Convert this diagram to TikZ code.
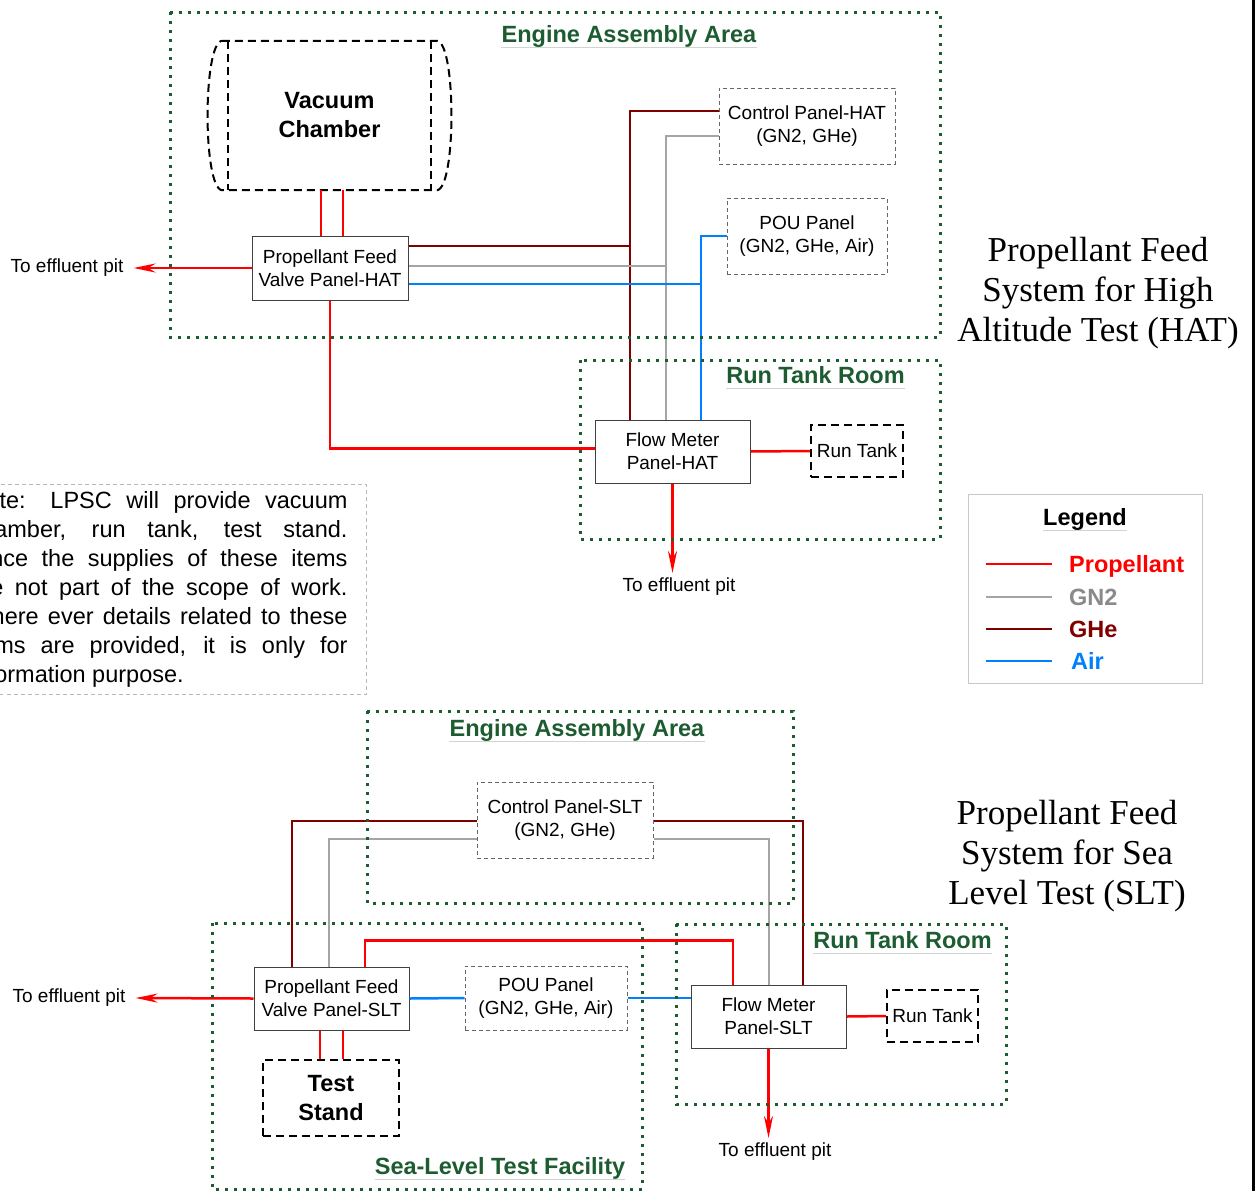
\documentclass[tikz,border=0pt]{standalone}
\usepackage{fontspec}
\setmainfont{Liberation Sans}
\newfontfamily\serifttl{Liberation Serif}
\usetikzlibrary{arrows.meta}
\usetikzlibrary{calc}

\definecolor{propred}{RGB}{255,0,0}
\definecolor{gntwo}{RGB}{165,165,165}
\definecolor{gntwotext}{RGB}{138,138,138}
\definecolor{gheRed}{RGB}{128,0,0}
\definecolor{airblue}{RGB}{0,128,255}
\definecolor{zonegreen}{RGB}{28,92,48}
\definecolor{ulinegray}{RGB}{205,215,205}
\definecolor{legendgray}{RGB}{200,200,200}
\definecolor{notegray}{RGB}{185,185,185}

\newcommand{\panelfont}{\fontsize{19}{23}\selectfont}
\newcommand{\headfont}{\fontsize{23.5}{29}\selectfont\bfseries}
\newcommand{\notefont}{\fontsize{23.5}{29}\selectfont}
\newcommand{\serifbig}{\serifttl\fontsize{35}{40}\selectfont}

\begin{document}
\begin{tikzpicture}[
    x=1pt, y=-1pt, % un punto = un pixel, eje y hacia abajo
    font=\panelfont, % Fuente de los paneles
    panel/.style={draw=black!75, line width=1pt, fill=white, align=center, inner sep=0pt}, % Panel suministrado
    cpanel/.style={draw=black!60, line width=1pt, dash pattern=on 4pt off 3pt, align=center, inner sep=0pt}, % Panel a trazos
    tank/.style={draw=black, line width=2pt, dash pattern=on 8pt off 5pt, align=center, inner sep=0pt}, % Equipo de LPSC
    zone/.style={draw=zonegreen, line width=3pt, dash pattern=on 3pt off 6pt}, % Zonas (punteado verde)
    zonetitle/.style={text=zonegreen, font=\headfont, inner sep=0pt, anchor=base}, % Titulo de zona
    uline/.style={draw=ulinegray, line width=1pt}, % Subrayado de titulos
    pipe/.style={line width=2.5pt}, % Lineas de fluido
    prop/.style={pipe, propred},
    gn2/.style={pipe, gntwo},
    ghe/.style={pipe, gheRed},
    air/.style={pipe, airblue},
    toPit/.style={prop, -{Stealth[length=22pt, width=9pt]}}, % Flecha hacia el foso
    pit/.style={inner xsep=10pt, inner ysep=5pt} % Etiqueta del foso
]
    \useasboundingbox (0,0) rectangle (1258,1191);

    % --- Sistema HAT: paneles ---
    \node[font=\headfont, minimum width=203pt, minimum height=149pt, align=center] (vac) at (329.5,115.5) {Vacuum\\Chamber};
    \node[panel, minimum width=156pt, minimum height=64pt] (vpH) at (330,268) {Propellant Feed\\Valve Panel-HAT};
    \node[cpanel, minimum width=176pt, minimum height=76pt] (cpH) at (807,126) {Control Panel-HAT\\(GN2, GHe)};
    \node[cpanel, minimum width=160pt, minimum height=76pt] (pouH) at (807,236) {POU Panel\\(GN2, GHe, Air)};
    \node[panel, minimum width=155pt, minimum height=63pt] (fmH) at (672.5,451.5) {Flow Meter\\Panel-HAT};
    \node[tank, minimum width=92pt, minimum height=52pt] (rtH) at (857,451) {Run Tank};
    \node[pit] (pitH1) at (67,268) {To effluent pit};
    \node[pit] (pitH2) at (679,587) {To effluent pit};

    % Camara de vacio (contorno a trazos)
    \draw[tank] (vac.north west) -- (vac.south west) (vac.north east) -- (vac.south east);
    \draw[tank] ([xshift=-6pt]vac.north west) -- ([xshift=6pt]vac.north east)
        .. controls +(19,3) and +(19,-3) .. ([xshift=6pt]vac.south east)
        -- ([xshift=-6pt]vac.south west)
        .. controls +(-19,-3) and +(-19,3) .. ([xshift=-6pt]vac.north west);

    % --- Sistema HAT: lineas ---
    \coordinate (vpHa) at ([xshift=-9pt]vpH.north);
    \coordinate (vpHb) at ([xshift=13pt]vpH.north);
    \draw[prop] (vac.south -| vpHa) -- (vpHa);
    \draw[prop] (vac.south -| vpHb) -- (vpHb);
    \draw[toPit] (vpH.west) -- (pitH1.east);
    \coordinate (fmHp) at ([yshift=3pt]fmH.west);
    \draw[prop] (vpH.south) |- (fmHp);

    \coordinate (gheH) at ([xshift=-42.5pt]fmH.north);
    \coordinate (gn2H) at ([xshift=-6.5pt]fmH.north);
    \coordinate (airH) at ([xshift=28.5pt]fmH.north);
    \coordinate (vpHghe) at ([yshift=22pt]vpH.east);
    \coordinate (vpHgn2) at ([yshift=2pt]vpH.east);
    \coordinate (vpHair) at ([yshift=-16pt]vpH.east);
    \draw[ghe] ([yshift=15pt]cpH.west) -| (gheH);
    \draw[ghe] (vpHghe) -- (vpHghe -| gheH);
    \draw[gn2] ([yshift=-10pt]cpH.west) -| (gn2H);
    \draw[gn2] (vpHgn2) -- (vpHgn2 -| gn2H);
    \draw[air] (pouH.west) -| (airH);
    \draw[air] (vpHair) -- (vpHair -| airH);

    \draw[prop] (fmH.east) -- (rtH.west);
    \draw[toPit] (fmH.south) -- (fmH.south |- pitH2.north);

    % --- Sistema SLT: paneles ---
    \node[cpanel, minimum width=176pt, minimum height=76pt] (ctlS) at (565,820) {Control Panel-SLT\\(GN2, GHe)};
    \node[panel, minimum width=155pt, minimum height=63pt] (vpS) at (331.5,998.5) {Propellant Feed\\Valve Panel-SLT};
    \node[cpanel, minimum width=162pt, minimum height=64pt] (pouS) at (546,998) {POU Panel\\(GN2, GHe, Air)};
    \node[panel, minimum width=155pt, minimum height=63pt] (fmS) at (768.5,1016.5) {Flow Meter\\Panel-SLT};
    \node[tank, minimum width=91pt, minimum height=52pt] (rtS) at (932.5,1016) {Run Tank};
    \node[tank, font=\headfont, minimum width=136pt, minimum height=76pt] (tsS) at (331,1098) {Test\\Stand};
    \node[pit] (pitS1) at (69,998) {To effluent pit};
    \node[pit] (pitS2) at (775,1152) {To effluent pit};

    % --- Sistema SLT: lineas ---
    \coordinate (vpSghe) at ([xshift=-39.5pt]vpS.north);
    \coordinate (vpSgn2) at ([xshift=-2.5pt]vpS.north);
    \coordinate (vpSprop) at ([xshift=33.5pt]vpS.north);
    \coordinate (fmSprop) at ([xshift=-35.5pt]fmS.north);
    \coordinate (fmSgn2) at ([xshift=0.5pt]fmS.north);
    \coordinate (fmSghe) at ([xshift=34.5pt]fmS.north);
    \draw[ghe] ([yshift=-1pt]ctlS.west) -| (vpSghe);
    \draw[gn2] ([yshift=-19pt]ctlS.west) -| (vpSgn2);
    \draw[ghe] ([yshift=-1pt]ctlS.east) -| (fmSghe);
    \draw[gn2] ([yshift=-19pt]ctlS.east) -| (fmSgn2);
    \draw[prop] (vpSprop) -- ++(0,-26) -| (fmSprop);
    \draw[air] (vpS.east) -- (pouS.west);
    \draw[air] (pouS.east) -- (pouS.east -| fmS.west);
    \draw[toPit] (vpS.west) -- (pitS1.east);

    \coordinate (tsSa) at ([xshift=-11.5pt]vpS.south);
    \coordinate (tsSb) at ([xshift=11.5pt]vpS.south);
    \draw[prop] (tsSa) -- (tsSa |- tsS.north);
    \draw[prop] (tsSb) -- (tsSb |- tsS.north);
    \draw[prop] (fmS.east) -- (rtS.west);
    \draw[toPit] (fmS.south) -- (fmS.south |- pitS2.north);

    % --- Zonas ---
    \draw[zone] (170,12) rectangle (940,337);
    \draw[zone] (580,360) rectangle (940,539);
    \draw[zone] (367,711) rectangle (793,903);
    \draw[zone] (212,923) rectangle (642,1189);
    \draw[zone] (676,924) rectangle (1006,1104);

    \node[zonetitle] (eaH) at (629,42) {Engine Assembly Area};
    \node[zonetitle] (rtrH) at (815.5,383) {Run Tank Room};
    \node[zonetitle] (eaS) at (577,736) {Engine Assembly Area};
    \node[zonetitle] (rtrS) at (902.5,948) {Run Tank Room};
    \node[zonetitle] (sltf) at (500,1174) {Sea-Level Test Facility};
    \draw[uline] ([yshift=-5pt]eaH.base west) -- ([yshift=-5pt]eaH.base east);
    \draw[uline] ([yshift=-5pt]rtrH.base west) -- ([yshift=-5pt]rtrH.base east);
    \draw[uline] ([yshift=-5pt]eaS.base west) -- ([yshift=-5pt]eaS.base east);
    \draw[uline] ([yshift=-5pt]rtrS.base west) -- ([yshift=-5pt]rtrS.base east);
    \draw[uline] ([yshift=-5pt]sltf.base west) -- ([yshift=-5pt]sltf.base east);

    % --- Leyenda ---
    \draw[legendgray, line width=1pt] (968,494) rectangle (1202,683);
    \node[font=\headfont, inner sep=0pt, anchor=base] (lgd) at (1085,525) {Legend};
    \draw[uline] ([yshift=-5pt]lgd.base west) -- ([yshift=-5pt]lgd.base east);
    \draw[prop] (986,564) -- (1052,564);
    \draw[gn2] (986,597) -- (1052,597);
    \draw[ghe] (986,629) -- (1052,629);
    \draw[air] (986,661) -- (1052,661);
    \node[font=\headfont, text=propred, inner sep=0pt, anchor=base west] (lgProp) at (1069,572) {Propellant};
    \node[font=\headfont, text=gntwotext, inner sep=0pt, anchor=base west] (lgGn2) at (1069,605) {GN2};
    \node[font=\headfont, text=gheRed, inner sep=0pt, anchor=base west] (lgGhe) at (1069,637) {GHe};
    \node[font=\headfont, text=airblue, inner sep=0pt, anchor=base west] (lgAir) at (1071,669) {Air};

    % --- Nota (cortada por el borde izquierdo, como en el original) ---
    \node[draw=notegray, dash pattern=on 4pt off 3pt, line width=1pt, text width=378pt, align=justify,
          font=\notefont, inner xsep=19pt, inner ysep=7pt, anchor=north east] (note) at (367,484)
        {Note: LPSC will provide vacuum\linebreak chamber, run tank, test stand.\linebreak
         Since the supplies of these items\linebreak are not part of the scope of work.\linebreak
         Where ever details related to these\linebreak items are provided, it is only for\linebreak
         information purpose.};

    % --- Titulos de sistema ---
    \node[font=\serifbig, align=center] (hatTtl) at (1098,293) {Propellant Feed\\System for High\\Altitude Test (HAT)};
    \node[font=\serifbig, align=center] (sltTtl) at (1067,856) {Propellant Feed\\System for Sea\\Level Test (SLT)};

    % Borde de pagina
    \draw[line width=2.5pt] (1253.5,0) -- (1253.5,1191);
\end{tikzpicture}
\end{document}
